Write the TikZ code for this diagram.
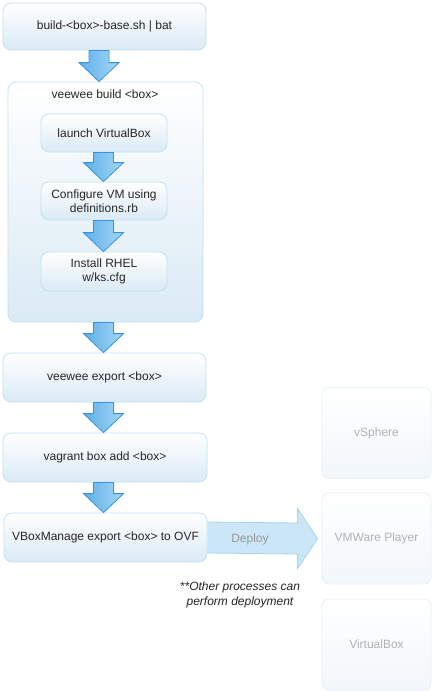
\documentclass[tikz,border=0pt]{standalone}
\usepackage{fontspec}
\setmainfont{Liberation Sans}
\usetikzlibrary{calc}
\definecolor{boxline}{HTML}{C3E2F2}
\definecolor{boxbot}{HTML}{DAEAF5}
\definecolor{arrline}{HTML}{3A93DA}
\definecolor{arrleft}{HTML}{5DAFEA}
\definecolor{arrright}{HTML}{A6D8F6}
\definecolor{fadeline}{HTML}{E6F1F8}
\definecolor{fadebot}{HTML}{F2F7FB}
\definecolor{fadetext}{HTML}{B2B2B2}
\definecolor{deployfill}{HTML}{CBE6F7}
\definecolor{deployline}{HTML}{A8D4EF}
\tikzset{
  txt/.style={font=\fontsize{12}{14.5}\selectfont, text=black!85, align=center},
  stepbox/.style={txt, draw=boxline, line width=0.8pt, rounded corners=8pt,
    top color=white, bottom color=boxbot, inner sep=0pt},
  fadebox/.style={txt, draw=fadeline, line width=0.8pt, rounded corners=7pt,
    top color=white, bottom color=fadebot, text=fadetext, inner sep=0pt,
    minimum width=109pt, minimum height=91pt},
  blockarrow/.style={draw=arrline, line width=0.8pt, left color=arrleft, right color=arrright},
  deployarrow/.style={draw=deployline, line width=0.8pt, fill=deployfill},
}
\newcommand{\blockdown}[3]{%
  \draw[blockarrow] (#1.south -| #3-10,0) -- ($(#2.north -| #3-10,0)+(0,-19)$)
    -- ($(#2.north -| #3-20,0)+(0,-19)$) -- (#2.north -| #3,0)
    -- ($(#2.north -| #3+20,0)+(0,-19)$) -- ($(#2.north -| #3+10,0)+(0,-19)$)
    -- (#1.south -| #3+10,0) -- cycle;}
\begin{document}
\begin{tikzpicture}[x=1pt,y=-1pt]
\useasboundingbox[fill=white] (0,0) rectangle (434,691);

\node[stepbox, minimum width=203pt, minimum height=47pt] (b1) at (104.5,26.5) {build-<box>-base.sh | bat};
\node[stepbox, minimum width=195pt, minimum height=240pt] (cont) at (105.5,202) {};
\node[txt] (ctitle) at (105,94) {veewee build <box>};
\node[stepbox, minimum width=126pt, minimum height=38pt] (i1) at (104,133) {launch VirtualBox};
\node[stepbox, minimum width=126pt, minimum height=38pt] (i2) at (104,201) {Configure VM using\\definitions.rb};
\node[stepbox, minimum width=126pt, minimum height=39pt] (i3) at (104,271.5) {Install RHEL\\w/ks.cfg};
\node[stepbox, minimum width=203pt, minimum height=49pt] (b2) at (104.5,377.5) {veewee export <box>};
\node[stepbox, minimum width=204pt, minimum height=49pt] (b3) at (105,457.5) {vagrant box add <box>};
\node[stepbox, minimum width=203pt, minimum height=49pt] (b4) at (105.5,537.5) {VBoxManage export <box> to OVF};

\node[fadebox] (r1) at (376.5,433) {vSphere};
\node[fadebox] (r2) at (376.5,538.5) {VMWare Player};
\node[fadebox] (r3) at (376.5,644.5) {VirtualBox};

\blockdown{b1}{cont}{99}
\blockdown{i1}{i2}{103.5}
\blockdown{i2}{i3}{103.5}
\blockdown{cont}{b2}{103.5}
\blockdown{b2}{b3}{103.5}
\blockdown{b3}{b4}{103.5}

\coordinate (dtip) at ($(r2.west)+(-4,0)$);
\draw[deployarrow] ($(b4.east)+(0,-15.5)$) -- ($(dtip)+(-20,-15.5)$) -- ($(dtip)+(-20,-30)$)
  -- (dtip) -- ($(dtip)+(-20,30)$) -- ($(dtip)+(-20,15.5)$) -- ($(b4.east)+(0,15.5)$);
\node[txt, text=black!40] (deploy) at (250,539) {Deploy};
\node[txt, font=\fontsize{12}{15}\selectfont\itshape] (note) at (240,594.5) {**Other processes can\\perform deployment};
\end{tikzpicture}
\end{document}
